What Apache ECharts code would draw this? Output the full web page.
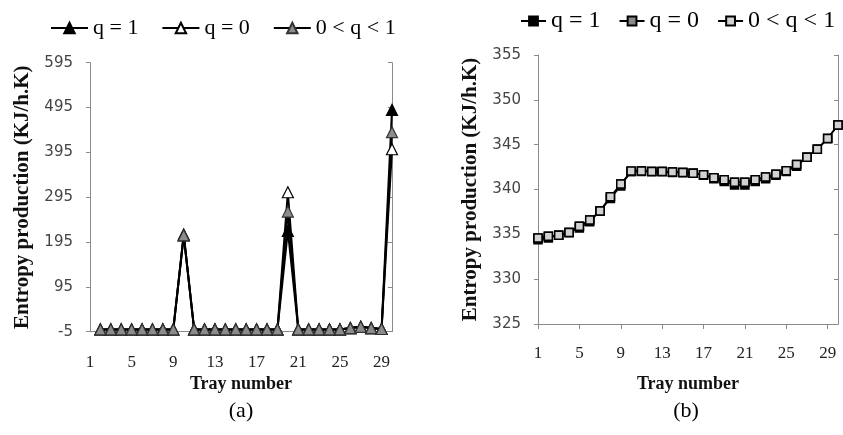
<!DOCTYPE html>
<html>
<head>
<meta charset="utf-8">
<script src="https://cdn.jsdelivr.net/npm/echarts@6/dist/echarts.min.js"></script>
<style>
  html, body { margin: 0; padding: 0; background: #fff; }
  #chart { width: 843px; height: 435px; }
</style>
</head>
<body>
<div id="chart"></div>
<script>
// Tray numbers (x axis of both plots)
const trays = ['1','2','3','4','5','6','7','8','9','10','11','12','13','14','15',
               '16','17','18','19','20','21','22','23','24','25','26','27','28','29','30'];

// Legend labels
const legendLabels = ['q = 1', 'q = 0', '0 < q < 1'];

// (a) entropy production per tray, KJ/h.K  ('-' = no point)
const aQ1   = ['-', 0, 0, 0, 0, 0, 0, 0, 0, 210, 0, 0, 0, 0, 0, 0, 0, 0, 0, 220, 0, 0, 0, 0, 0, 3, 6, 3, 1, 490];
const aQ0   = ['-', 0, 0, 0, 0, 0, 0, 0, 0, 212, 0, 0, 0, 0, 0, 0, 0, 0, 0, 306, 0, 0, 0, 0, 0, 3, 6, 3, 1, 402];
const aQmid = ['-', 0, 0, 0, 0, 0, 0, 0, 0, 210, 0, 0, 0, 0, 0, 0, 0, 0, 0, 263, 0, 0, 0, 0, 0, 3, 6, 3, 1, 440];

// (b) total entropy production, KJ/h.K
const bQ1   = [334.4, 334.6, 334.9, 335.2, 335.7, 336.4, 337.6, 339.0, 340.4, 342.0,
               342.0, 342.0, 342.0, 341.9, 341.9, 341.8, 341.6, 341.2, 340.9, 340.5,
               340.5, 340.9, 341.2, 341.6, 342.0, 342.6, 343.6, 344.5, 345.7, 347.2];
const bQ0   = [334.6, 334.8, 334.9, 335.2, 335.9, 336.6, 337.6, 339.2, 340.6, 342.0,
               342.05, 342.0, 342.0, 341.95, 341.9, 341.8, 341.65, 341.3, 341.1, 340.8,
               340.8, 341.1, 341.4, 341.7, 342.1, 342.8, 343.6, 344.5, 345.7, 347.2];
const bQmid = [334.6, 334.8, 334.9, 335.2, 335.9, 336.6, 337.6, 339.2, 340.6, 342.05,
               342.05, 342.0, 342.0, 341.95, 341.9, 341.8, 341.65, 341.3, 341.1, 340.8,
               340.8, 341.1, 341.4, 341.7, 342.1, 342.8, 343.6, 344.5, 345.7, 347.2];

const serif = '"Liberation Serif", "Times New Roman", serif';
const sans = '"DejaVu Sans", sans-serif';
const axisGray = '#8a8a8a';

const chart = echarts.init(document.getElementById('chart'), null, { renderer: 'canvas' });

// Helpers para ejes repetidos
function ejeX(gridIndex, conTicks, margen, gap) {
  return {
    type: 'category', gridIndex: gridIndex, data: trays, boundaryGap: false,
    axisLine: { onZero: false, lineStyle: { color: axisGray, width: 1 } },
    axisTick: { show: conTicks, interval: 3, length: 5, lineStyle: { color: axisGray } },
    axisLabel: { interval: 3, margin: margen, fontFamily: serif, fontSize: 17, color: '#222' },
    splitLine: { show: false },
    name: 'Tray number', nameLocation: 'middle', nameGap: gap,
    nameTextStyle: { fontFamily: serif, fontSize: 18, fontWeight: 'bold', color: '#111' }
  };
}
function ejeY(gridIndex, min, max, step) {
  return {
    type: 'value', gridIndex: gridIndex, min: min, max: max, interval: step,
    axisLine: { show: true, lineStyle: { color: axisGray, width: 1 } },
    axisTick: { show: true, length: 4, lineStyle: { color: axisGray } },
    axisLabel: { margin: 17, fontFamily: sans, fontSize: 15, color: '#444' },
    splitLine: { show: false },
    name: 'Entropy production (KJ/h.K)', nameLocation: 'middle', nameGap: 57, nameRotate: 90,
    nameTextStyle: { fontFamily: serif, fontSize: 21, fontWeight: 'bold', color: '#111' }
  };
}
function ejeDerecho(gridIndex, min, max, step) {
  return {
    type: 'value', gridIndex: gridIndex, position: 'right', min: min, max: max, interval: step,
    axisLine: { show: true, lineStyle: { color: axisGray, width: 1 } },
    axisTick: { show: true, inside: true, length: 4, lineStyle: { color: axisGray } },
    axisLabel: { show: false }, splitLine: { show: false }
  };
}

function serieA(name, data, fill, border) {
  return {
    name: name, type: 'line', xAxisIndex: 0, yAxisIndex: 0, data: data,
    symbol: 'triangle', symbolSize: 11, showAllSymbol: true,
    lineStyle: { color: '#000', width: 2 },
    itemStyle: { color: fill, borderColor: border, borderWidth: 1.2 }
  };
}
function serieB(name, data, fill) {
  return {
    name: name, type: 'line', xAxisIndex: 1, yAxisIndex: 2, data: data,
    symbol: 'rect', symbolSize: 8, showAllSymbol: true,
    lineStyle: { color: '#000', width: 1.5 },
    itemStyle: { color: fill, borderColor: '#000', borderWidth: 1.5 }
  };
}

chart.setOption({
  animation: false,
  backgroundColor: '#fff',
  legend: [
    {
      left: 45, top: 12, itemWidth: 37, itemHeight: 13, itemGap: 23,
      data: legendLabels.map(l => 'a:' + l),
      formatter: n => n.slice(2),
      textStyle: { fontFamily: serif, fontSize: 22, color: '#000' }
    },
    {
      left: 515, top: 4, itemWidth: 25, itemHeight: 11, itemGap: 18,
      data: legendLabels.map(l => 'b:' + l),
      formatter: n => n.slice(2),
      textStyle: { fontFamily: serif, fontSize: 24, color: '#000' }
    }
  ],
  grid: [
    { left: 90, top: 62.7, width: 302, height: 269 },
    { left: 538, top: 55, width: 300, height: 269 }
  ],
  xAxis: [ejeX(0, false, 22, 43), ejeX(1, true, 21, 51)],
  yAxis: [
    ejeY(0, -5, 595, 100), ejeDerecho(0, -5, 595, 100),
    ejeY(1, 325, 355, 5), ejeDerecho(1, 325, 355, 5)
  ],
  series: [
    serieA('a:' + legendLabels[0], aQ1, '#000', '#000'),
    serieA('a:' + legendLabels[1], aQ0, '#fff', '#000'),
    serieA('a:' + legendLabels[2], aQmid, '#8c8c8c', '#333'),
    serieB('b:' + legendLabels[0], bQ1, '#000'),
    serieB('b:' + legendLabels[1], bQ0, '#8a8a8a'),
    serieB('b:' + legendLabels[2], bQmid, '#d2d2d2')
  ],
  graphic: [
    { type: 'text', x: 241, y: 411, style: { text: '(a)', font: '22px ' + serif, textAlign: 'center', textVerticalAlign: 'middle', fill: '#000' } },
    { type: 'text', x: 686, y: 411, style: { text: '(b)', font: '22px ' + serif, textAlign: 'center', textVerticalAlign: 'middle', fill: '#000' } }
  ]
});
</script>
</body>
</html>
